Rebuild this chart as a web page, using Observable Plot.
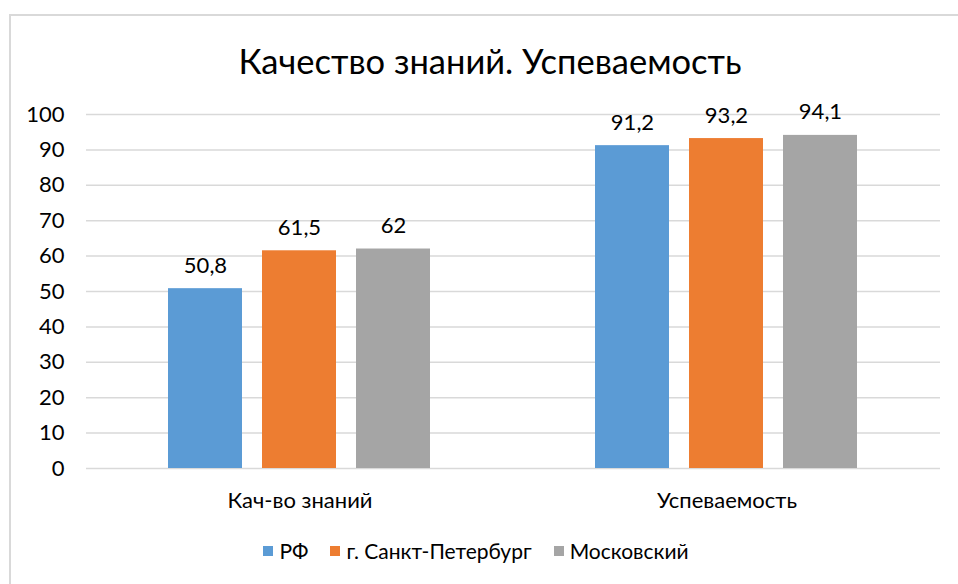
<!DOCTYPE html>
<html>
<head>
<meta charset="utf-8">
<script src="https://cdn.jsdelivr.net/npm/d3@7"></script>
<script src="https://cdn.jsdelivr.net/npm/@observablehq/plot@0.6"></script>
<style>
  html, body { margin: 0; padding: 0; background: #fff; overflow: hidden; }
  body { width: 958px; height: 584px; position: relative; font-family: Lato, "Open Sans", sans-serif; color: #000; }
  #frame { position: absolute; left: 9px; top: 14px; width: 960px; height: 600px; border: 2px solid #d9d9d9; box-sizing: border-box; }
  #title { position: absolute; left: 0; width: 980px; top: 40px; text-align: center; font-size: 34.5px; line-height: 42px; white-space: nowrap; }
  #chart { position: absolute; left: 0; top: 0; }
  #legend { position: absolute; left: 0; width: 952px; top: 538px; display: flex; justify-content: center; gap: 22px; font-size: 21px; line-height: 26px; }
  .item { display: flex; align-items: center; gap: 6px; }
  .sw { width: 10px; height: 10px; display: inline-block; }
</style>
</head>
<body>
<div id="frame"></div>
<div id="chart"></div>
<div id="title">Качество знаний. Успеваемость</div>
<div id="legend"></div>
<script>
const groups = ["Кач-во знаний", "Успеваемость"];
const series = ["РФ", "г. Санкт-Петербург", "Московский"];
const valuesRF = [50.8, 91.2];
const valuesSPb = [61.5, 93.2];
const valuesMoscow = [62, 94.1];
const colors = ["#5B9BD5", "#ED7D31", "#A5A5A5"];
const yTicks = [0, 10, 20, 30, 40, 50, 60, 70, 80, 90, 100];

const seriesValues = [valuesRF, valuesSPb, valuesMoscow];
const data = [];
groups.forEach((g, gi) => {
  series.forEach((s, si) => {
    data.push({group: g, series: s, value: seriesValues[si][gi]});
  });
});
const fmt = v => String(v).replace(".", ",");

const chart = Plot.plot({
  width: 958,
  height: 518,
  marginTop: 114,
  marginBottom: 50,
  marginLeft: 86,
  marginRight: 18,
  style: {fontFamily: "Lato, 'Open Sans', sans-serif", fontSize: "20px", color: "#000", background: "transparent"},
  fx: {domain: groups, padding: 0, label: null},
  x: {domain: series, paddingInner: 0.2105, paddingOuter: 0.853, axis: null},
  y: {domain: [0, 100], label: null},
  color: {domain: series, range: colors},
  marks: [
    Plot.ruleY(yTicks, {stroke: "#d9d9d9", strokeWidth: 1.5}),
    Plot.barY(data, {fx: "group", x: "series", y: "value", fill: "series"}),
    Plot.text(data, {fx: "group", x: "series", y: "value", text: d => fmt(d.value), dy: -23, fontSize: 22, fill: "#000"}),
    Plot.axisY({ticks: yTicks, tickSize: 0, tickPadding: 22, fontSize: 22, label: null}),
    Plot.axisFx({anchor: "bottom", tickSize: 0, tickPadding: 24, fontSize: 22, label: null})
  ]
});
document.getElementById("chart").appendChild(chart);

const legend = document.getElementById("legend");
series.forEach((s, i) => {
  const item = document.createElement("div");
  item.className = "item";
  const sw = document.createElement("span");
  sw.className = "sw";
  sw.style.background = colors[i];
  const t = document.createElement("span");
  t.textContent = s;
  item.appendChild(sw);
  item.appendChild(t);
  legend.appendChild(item);
});
</script>
</body>
</html>
